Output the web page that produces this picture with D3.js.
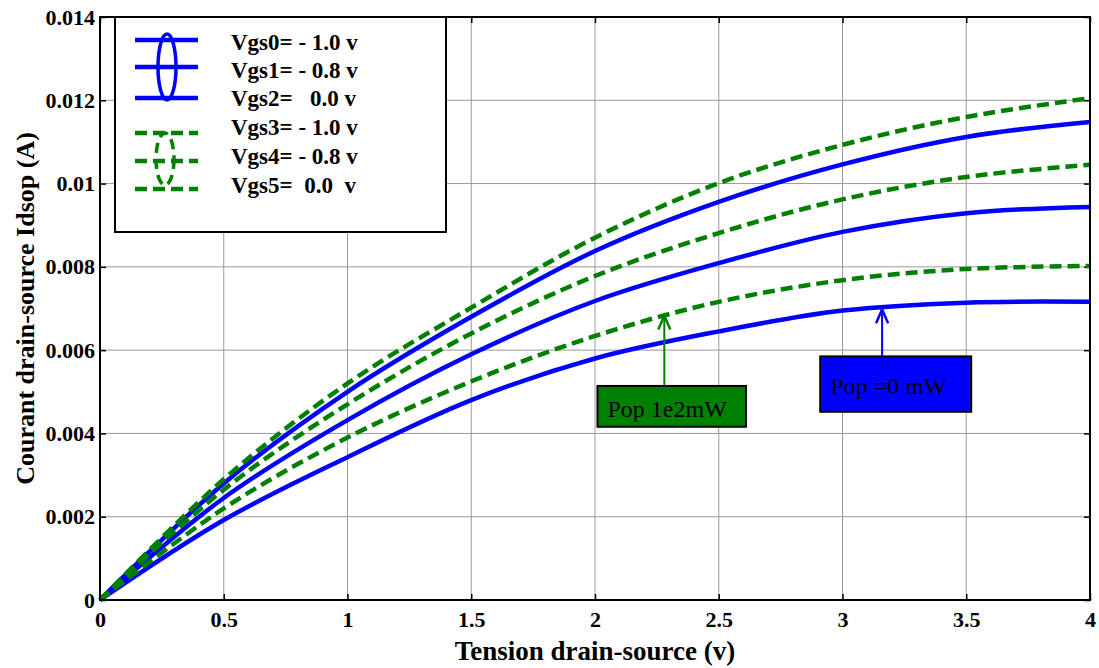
<!DOCTYPE html>
<html>
<head>
<meta charset="utf-8">
<script src="https://cdn.jsdelivr.net/npm/d3@7"></script>
<style>
  body { margin: 0; background: #fff; }
  text { font-family: "Liberation Serif", "Times New Roman", serif; }
</style>
</head>
<body>
<div id="wrapper"></div>
<script>
// data
const vds = [0, 0.5, 1, 1.5, 2, 2.5, 3, 3.5, 4]
const vgs0 = [0, 0.00192, 0.00343, 0.0048, 0.0058, 0.00645, 0.00695, 0.00714, 0.00716]
const vgs1 = [0, 0.00245, 0.00432, 0.0059, 0.00718, 0.00809, 0.00884, 0.00929, 0.00944]
const vgs2 = [0, 0.0028, 0.005, 0.0068, 0.00838, 0.00956, 0.01046, 0.01112, 0.01148]
const vgs3 = [0, 0.0022, 0.0039, 0.00525, 0.00634, 0.00716, 0.00768, 0.00795, 0.00802]
const vgs4 = [0, 0.00265, 0.0047, 0.0064, 0.00778, 0.00881, 0.00962, 0.01016, 0.01045]
const vgs5 = [0, 0.0029, 0.0052, 0.00702, 0.0087, 0.01001, 0.01093, 0.0116, 0.01205]

const xTicks = [0, 0.5, 1, 1.5, 2, 2.5, 3, 3.5, 4]
const yTicks = [0, 0.002, 0.004, 0.006, 0.008, 0.01, 0.012, 0.014]
const legendLabels = ['Vgs0= - 1.0 v', 'Vgs1= - 0.8 v', 'Vgs2=   0.0 v',
  'Vgs3= - 1.0 v', 'Vgs4= - 0.8 v', 'Vgs5=  0.0  v']

const series = [
  { vals: vgs0, color: '#0000ff', dash: null },
  { vals: vgs1, color: '#0000ff', dash: null },
  { vals: vgs2, color: '#0000ff', dash: null },
  { vals: vgs3, color: '#008000', dash: '12,6' },
  { vals: vgs4, color: '#008000', dash: '12,6' },
  { vals: vgs5, color: '#008000', dash: '12,6' },
]

const serif = '"Liberation Serif", "Times New Roman", serif'

const dimensions = {
  width: 1099,
  height: 668,
  margin: { top: 17, right: 9, bottom: 68, left: 100 },
}
dimensions.boundedWidth = dimensions.width - dimensions.margin.left - dimensions.margin.right
dimensions.boundedHeight = dimensions.height - dimensions.margin.top - dimensions.margin.bottom

const svg = d3.select('#wrapper').append('svg')
  .attr('width', dimensions.width)
  .attr('height', dimensions.height)

const bounds = svg.append('g')
  .attr('transform', `translate(${dimensions.margin.left},${dimensions.margin.top})`)

const xScale = d3.scaleLinear().domain([0, 4]).range([0, dimensions.boundedWidth])
const yScale = d3.scaleLinear().domain([0, 0.014]).range([dimensions.boundedHeight, 0])

// grid
bounds.append('g').selectAll('line').data(xTicks).join('line')
  .attr('x1', d => xScale(d)).attr('x2', d => xScale(d))
  .attr('y1', 0).attr('y2', dimensions.boundedHeight)
  .attr('stroke', '#9a9a9a').attr('stroke-width', 1)
bounds.append('g').selectAll('line').data(yTicks).join('line')
  .attr('x1', 0).attr('x2', dimensions.boundedWidth)
  .attr('y1', d => yScale(d)).attr('y2', d => yScale(d))
  .attr('stroke', '#9a9a9a').attr('stroke-width', 1)

// axes (inward ticks, matlab style)
const xAxis = bounds.append('g')
  .attr('transform', `translate(0,${dimensions.boundedHeight})`)
  .call(d3.axisBottom(xScale).tickValues(xTicks).tickSizeInner(-6).tickSizeOuter(0).tickPadding(11)
    .tickFormat(d3.format('')))
const xAxisTop = bounds.append('g')
  .call(d3.axisTop(xScale).tickValues(xTicks).tickSizeInner(-6).tickSizeOuter(0).tickFormat(''))
const yAxis = bounds.append('g')
  .call(d3.axisLeft(yScale).tickValues(yTicks).tickSizeInner(-6).tickSizeOuter(0).tickPadding(5)
    .tickFormat(d => d === 0 ? '0' : d3.format('')(+d.toFixed(3))))
const yAxisRight = bounds.append('g')
  .attr('transform', `translate(${dimensions.boundedWidth},0)`)
  .call(d3.axisRight(yScale).tickValues(yTicks).tickSizeInner(-6).tickSizeOuter(0).tickFormat(''))

;[xAxis, xAxisTop, yAxis, yAxisRight].forEach(a => {
  a.attr('font-family', serif).attr('font-size', 22)
  a.select('.domain').remove()
  a.selectAll('.tick line').attr('stroke', '#000').attr('stroke-width', 1.5)
  a.selectAll('.tick text')
    .style('font-family', serif)
    .style('font-size', '22px')
    .style('font-weight', 'bold')
    .attr('fill', '#000')
})

// lines
const lineGenerator = d3.line()
  .x((d, i) => xScale(vds[i]))
  .y(d => yScale(d))
  .curve(d3.curveCatmullRom.alpha(0.5))

series.forEach(s => {
  bounds.append('path')
    .attr('d', lineGenerator(s.vals))
    .attr('fill', 'none')
    .attr('stroke', s.color)
    .attr('stroke-width', 4.5)
    .attr('stroke-dasharray', s.dash)
})

// box
bounds.append('rect')
  .attr('width', dimensions.boundedWidth)
  .attr('height', dimensions.boundedHeight)
  .attr('fill', 'none')
  .attr('stroke', '#000')
  .attr('stroke-width', 2)

// legend
const legend = svg.append('g')
legend.append('rect')
  .attr('x', 115).attr('y', 17).attr('width', 331).attr('height', 215)
  .attr('fill', '#fff').attr('stroke', '#000').attr('stroke-width', 2)

const legendLineY = [40, 67, 98, 133, 161, 189]
const legendTextY = [42, 70, 98, 127, 156, 185]
series.forEach((s, i) => {
  legend.append('line')
    .attr('x1', 135).attr('x2', 198)
    .attr('y1', legendLineY[i]).attr('y2', legendLineY[i])
    .attr('stroke', s.color).attr('stroke-width', 4.5)
    .attr('stroke-dasharray', s.dash)
  legend.append('text')
    .attr('x', 231).attr('y', legendTextY[i])
    .attr('dy', '0.35em')
    .style('font-family', serif)
    .style('font-size', '23px')
    .style('font-weight', 'bold')
    .style('white-space', 'pre')
    .attr('xml:space', 'preserve')
    .text(legendLabels[i])
})
legend.append('ellipse')
  .attr('cx', 167).attr('cy', 67).attr('rx', 9).attr('ry', 33)
  .attr('fill', 'none').attr('stroke', '#0000ff').attr('stroke-width', 3.5)
legend.append('ellipse')
  .attr('cx', 165).attr('cy', 159).attr('rx', 9).attr('ry', 26)
  .attr('fill', 'none').attr('stroke', '#008000').attr('stroke-width', 3.5)
  .attr('stroke-dasharray', '10,6')

// annotations
const drawArrow = (x, y1, y2, color) => {
  bounds.append('line')
    .attr('x1', xScale(x)).attr('x2', xScale(x))
    .attr('y1', yScale(y1)).attr('y2', yScale(y2))
    .attr('stroke', color).attr('stroke-width', 2)
  bounds.append('path')
    .attr('d', `M${xScale(x) - 6},${yScale(y2) + 14} L${xScale(x)},${yScale(y2)} L${xScale(x) + 6},${yScale(y2) + 14}`)
    .attr('fill', 'none').attr('stroke', color).attr('stroke-width', 2.5)
}
const drawBox = (x0, x1, ytop, ybot, fill, label) => {
  bounds.append('rect')
    .attr('x', xScale(x0)).attr('y', yScale(ytop))
    .attr('width', xScale(x1) - xScale(x0))
    .attr('height', yScale(ybot) - yScale(ytop))
    .attr('fill', fill).attr('stroke', '#000').attr('stroke-width', 2)
  bounds.append('text')
    .attr('x', xScale(x0) + 10)
    .attr('y', (yScale(ytop) + yScale(ybot)) / 2 + 2)
    .attr('dy', '0.35em')
    .style('font-family', serif)
    .style('font-size', '24px')
    .text(label)
}

drawBox(2.01, 2.61, 0.00514, 0.00416, '#008000', 'Pop 1e2mW')
drawArrow(2.28, 0.00514, 0.00683, '#008000')
drawBox(2.91, 3.52, 0.00585, 0.00452, '#0000ff', 'Pop =0 mW')
drawArrow(3.16, 0.00585, 0.00698, '#0000ff')

// axis titles
svg.append('text')
  .attr('x', dimensions.margin.left + dimensions.boundedWidth / 2)
  .attr('y', 651)
  .attr('dy', '0.35em')
  .attr('text-anchor', 'middle')
  .style('font-family', serif)
  .style('font-size', '27px')
  .style('font-weight', 'bold')
  .text('Tension drain-source (v)')

svg.append('text')
  .attr('transform', `translate(25,${dimensions.margin.top + dimensions.boundedHeight / 2}) rotate(-90)`)
  .attr('dy', '0.35em')
  .attr('text-anchor', 'middle')
  .style('font-family', serif)
  .style('font-size', '26px')
  .style('font-weight', 'bold')
  .text('Courant drain-source Idsop (A)')
</script>
</body>
</html>
